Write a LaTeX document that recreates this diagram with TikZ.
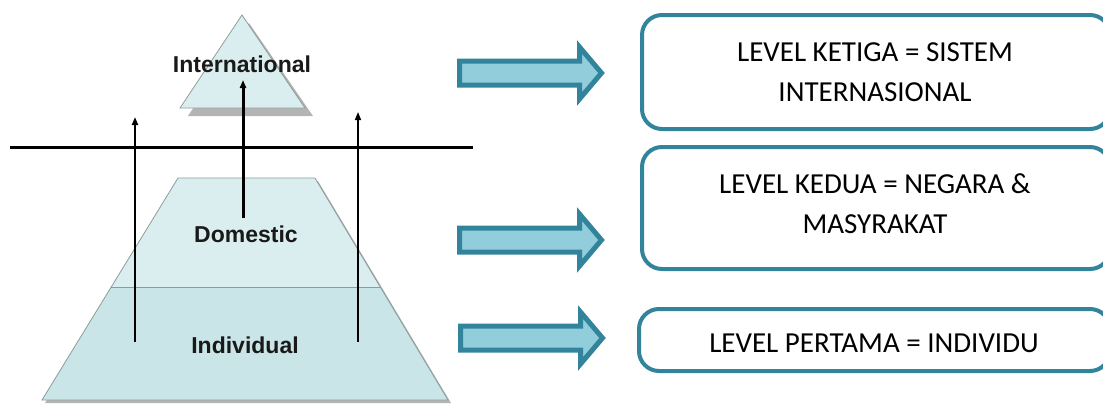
\documentclass[tikz,border=0pt]{standalone}
\usepackage{fontspec}
\setmainfont{Carlito}
\newfontfamily\pyrfont{Liberation Sans}
\usetikzlibrary{arrows.meta}

\definecolor{tealline}{HTML}{31849B}
\definecolor{tealfill}{HTML}{92CDDC}
\definecolor{pyrtop}{HTML}{DAEEF0}
\definecolor{pyrlow}{HTML}{C9E5E7}
\definecolor{pyredge}{HTML}{8C9C9E}
\definecolor{pyrshadow}{HTML}{B4B4B4}

\tikzset{
  pyrlabel/.style={font=\pyrfont\bfseries\fontsize{23}{26}\selectfont, text=black!90, inner sep=0pt, anchor=base},
  leveltext/.style={font=\fontsize{29}{40}\selectfont, align=center, inner sep=0pt},
  levelbox/.style={draw=tealline, line width=4pt, rounded corners=20pt, fill=white, inner sep=0pt},
  uparrow/.style={draw=black, -{Triangle[length=8pt,width=6pt]}},
  blockarrow/.pic={
    \draw[draw=tealline, fill=tealfill, line width=5pt, line join=miter]
      (0,-12) -- (120,-12) -- (120,-26) -- (142,0) -- (120,26) -- (120,12) -- (0,12) -- cycle;
  }
}

\begin{document}
\begin{tikzpicture}[x=1pt,y=-1pt]
  \useasboundingbox (0,0) rectangle (1103,405);
  \begin{scope}
    \clip (0,0) rectangle (1103,405);

    % pyramid: top triangle with its drop shadow
    \fill[pyrshadow] (249,23) -- (188,116) -- (313,116) -- cycle;
    \draw[pyredge, fill=pyrtop, line width=0.8pt] (242,15) -- (180,108) -- (305,108) -- cycle;

    % pyramid: trapezoid split in two layers
    \fill[pyrshadow] (181,181) -- (318,181) -- (451,403) -- (45,403) -- cycle;
    \fill[pyrtop] (178,178) -- (315,178) -- (380,287) -- (111,287) -- cycle;
    \fill[pyrlow] (111,287) -- (380,287) -- (448,400) -- (42,400) -- cycle;
    \draw[pyredge, line width=0.8pt] (178,178) -- (315,178) -- (448,400) -- (42,400) -- cycle;
    \draw[pyredge, line width=0.8pt] (111,287) -- (380,287);

    % dividing line
    \coordinate (hl) at (10,147);
    \coordinate (hr) at (473,147);
    \draw[black, line width=3pt] (hl) -- (hr);

    % labels
    \node[pyrlabel] (intl) at (242,72) {International};
    \node[pyrlabel] (dom) at (246,242) {Domestic};
    \node[pyrlabel] (ind) at (245,353) {Individual};

    % upward arrows
    \coordinate (la0) at (135,342);
    \coordinate (la1) at (135,117);
    \coordinate (ma0) at (243,218);
    \coordinate (ma1) at (243,80);
    \coordinate (ra0) at (358,342);
    \coordinate (ra1) at (358,112);
    \draw[uparrow, line width=2.5pt] (la0) -- (la1);
    \draw[uparrow, line width=3pt] (ma0) -- (ma1);
    \draw[uparrow, line width=1.5pt] (ra0) -- (ra1);

    % block arrows
    \pic (arr3) at (459.5,73) {blockarrow};
    \pic (arr2) at (459.5,240) {blockarrow};
    \pic (arr1) at (460.5,338) {blockarrow};

    % level boxes (their right side runs off the page edge)
    \node[levelbox, minimum width=468pt, minimum height=114pt] (b3) at (876,72) {};
    \node[leveltext] (t3) at (875,72) {LEVEL KETIGA = SISTEM\\INTERNASIONAL};
    \node[levelbox, minimum width=468pt, minimum height=122pt] (b2) at (876,208) {};
    \node[leveltext] (t2) at (875,204) {LEVEL KEDUA = NEGARA \&\\MASYRAKAT};
    \node[levelbox, minimum width=471pt, minimum height=62pt] (b1) at (874.5,340) {};
    \node[leveltext] (t1) at (874,343) {LEVEL PERTAMA = INDIVIDU};
  \end{scope}
\end{tikzpicture}
\end{document}
